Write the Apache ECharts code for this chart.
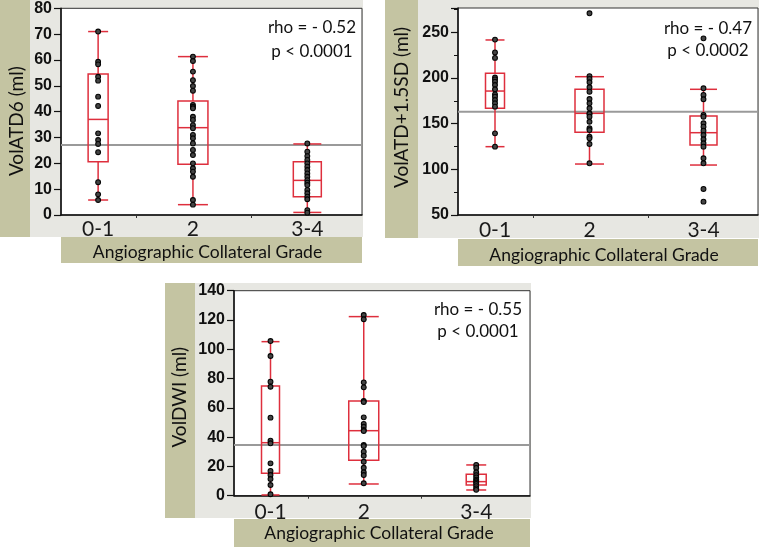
<!DOCTYPE html>
<html><head><meta charset="utf-8">
<script src="https://cdn.jsdelivr.net/npm/echarts@6/dist/echarts.min.js"></script>
<style>html,body{margin:0;padding:0;background:#fff}#c{width:761px;height:548px}</style>
</head><body><div id="c"></div>
<script>
// ---------- data ----------
const categories = ['0-1', '2', '3-4'];

// Panel 1: VolATD6 (ml)
const atd6Box = [[5.8, 20.6, 37.0, 54.6, 71.0], [4.0, 19.6, 33.8, 44.1, 61.3], [1.0, 7.1, 13.4, 20.6, 27.5]];
const atd6Pts01 = [71, 59.3, 58.3, 53.5, 52, 45.8, 42.2, 31.6, 29, 27.5, 24.3, 12.7, 8, 5.8];
const atd6Pts2 = [61.3, 59.6, 55.5, 52.2, 49.9, 48.1, 42.6, 41.9, 41.3, 38, 36.8, 34.8, 33.6, 31, 29.7, 27.7, 25.2, 23.2, 20, 18.1, 16.8, 14.8, 5.8, 4.0];
const atd6Pts34 = [27.7, 24.5, 22.8, 21.3, 20, 18.7, 17.4, 16.1, 14.8, 13.5, 12.5, 11.6, 9.7, 8.4, 7.1, 6.1, 1.9, 0.9];
const atd6Mean = 27.1;
const atd6Stats = ['rho = - 0.52', 'p < 0.0001'];
const atd6Ticks = { min: 0, max: 80, interval: 10 };

// Panel 2: VolATD+1.5SD (ml)
const atdSdBox = [[124.8, 166.8, 185.7, 205.1, 241.6], [105.8, 140.5, 161.3, 187.6, 201.4], [104.7, 126.6, 140.1, 158.4, 187.6]];
const atdSdPts01 = [242, 228, 222, 200.5, 198.5, 196, 192.3, 187.6, 182.1, 179.5, 175.9, 172.3, 168.6, 139.4, 124.8];
const atdSdPts2 = [270.8, 202, 199, 195.3, 189.8, 185, 177, 172.3, 166.8, 161.3, 160.6, 157.6, 152.1, 144.9, 143, 135.7, 133.9, 127.7, 106.6];
const atdSdPts34 = [243.4, 188.7, 181.4, 176.7, 159.5, 157.6, 150.4, 146.7, 142.3, 137.6, 132.9, 128.5, 124.8, 112.1, 106.6, 78.5, 64.6];
const atdSdMean = 163.1;
const atdSdStats = ['rho = - 0.47', 'p < 0.0002'];
const atdSdTicks = { min: 50, max: 276.6, interval: 50 };

// Panel 3: VolDWI (ml)
const dwiBox = [[0.5, 15.3, 36.2, 74.9, 105.2], [8.0, 24.2, 44.4, 64.7, 122.3], [3.9, 7.3, 9.6, 14.6, 21.0]];
const dwiPts01 = [105.6, 95.4, 77.9, 74.4, 53.3, 37.6, 35.8, 22.1, 16.9, 14.1, 11.4, 7.3, 1.0];
const dwiPts2 = [123.4, 120.5, 77.4, 74, 64.7, 64, 53.5, 49, 47.1, 44.9, 44.2, 34.6, 33.9, 30.1, 27.3, 23.2, 19.1, 16, 14.1, 8.5];
const dwiPts34 = [21, 19, 16, 14, 12.5, 11, 10, 9, 8, 6.5, 5, 4];
const dwiMean = 34.6;
const dwiStats = ['rho = - 0.55', 'p < 0.0001'];
const dwiTicks = { min: 0, max: 140, interval: 20 };

const yTitles = ['VolATD6 (ml)', 'VolATD+1.5SD (ml)', 'VolDWI (ml)'];
const xTitle = 'Angiographic Collateral Grade';

// ---------- layout (not data) ----------
const X_MAX = 300;
const catPos = [37, 131.5, 245.5];      // centre of each group on the x scale (JMP width by group)
const catEdges = [75, 190];
const KHAKI = '#c4c4a2', GREY = '#e7e7e2', RED = '#de2f3d';

const panels = [
  { box: atd6Box, pts: [atd6Pts01, atd6Pts2, atd6Pts34], mean: atd6Mean, stats: atd6Stats, ticks: atd6Ticks,
    grid: { left: 61, top: 8.3, width: 301, height: 206.7 }, half: [10, 15, 14], nameGap: 35, xNameGap: 28, labMargin: 3.5,
    yNamePad: [0, 19, 0, 0], xNamePad: [0, 8, 0, 0],
    minor: false, statsX: 312, statsY: [28, 52],
    bg: { strip: [0, 0, 30, 237], grey: [30, 0, 333, 237], band: [61, 237, 301, 26] } },
  { box: atdSdBox, pts: [atdSdPts01, atdSdPts2, atdSdPts34], mean: atdSdMean, stats: atdSdStats, ticks: atdSdTicks,
    grid: { left: 458, top: 8, width: 300, height: 207 }, half: [9.5, 14.5, 13.5], nameGap: 46.5, xNameGap: 31, labMargin: 4.5,
    yNamePad: [0, 0, 0, 8], xNamePad: [0, 8, 0, 0],
    minor: true, statsX: 708, statsY: [29, 51],
    bg: { strip: [385, 0, 33, 238], grey: [418, 0, 341, 238], band: [458, 239, 300, 27] } },
  { box: dwiBox, pts: [dwiPts01, dwiPts2, dwiPts34], mean: dwiMean, stats: dwiStats, ticks: dwiTicks,
    grid: { left: 234, top: 290.7, width: 296, height: 205 }, half: [9, 15, 10], nameGap: 44.5, xNameGap: 28.6, labMargin: 6,
    yNamePad: [0, 8, 0, 0], xNamePad: [0, 6, 0, 0],
    minor: false, statsX: 478, statsY: [310, 332],
    bg: { strip: [165, 283, 30, 235], grey: [195, 283, 336, 235], band: [234, 519, 296, 28] } }
];

function boxRender(half) {
  return function (params, api) {
    const x = api.value(0);
    const lo = api.coord([x, api.value(1)]);
    const q1 = api.coord([x, api.value(2)]);
    const md = api.coord([x, api.value(3)]);
    const q3 = api.coord([x, api.value(4)]);
    const hi = api.coord([x, api.value(5)]);
    const cx = md[0];
    const hw = half[params.dataIndex];
    const st = { stroke: RED, lineWidth: 1.5, fill: null };
    const L = (x1, y1, x2, y2) => ({ type: 'line', shape: { x1, y1, x2, y2 }, style: st });
    return {
      type: 'group', children: [
        L(cx, hi[1], cx, q3[1]), L(cx, q1[1], cx, lo[1]),
        L(cx - hw, hi[1], cx + hw, hi[1]), L(cx - hw, lo[1], cx + hw, lo[1]),
        { type: 'rect', shape: { x: cx - hw, y: q3[1], width: 2 * hw, height: q1[1] - q3[1] }, style: { stroke: RED, lineWidth: 1.5, fill: 'none' } },
        L(cx - hw, md[1], cx + hw, md[1])
      ]
    };
  };
}

const grids = [], xAxes = [], yAxes = [], series = [], graphics = [];
panels.forEach((p, i) => {
  const rect = (r, c) => ({ type: 'rect', z: -5, shape: { x: r[0], y: r[1], width: r[2], height: r[3] }, style: { fill: c }, silent: true });
  graphics.push(rect(p.bg.grey, GREY), rect(p.bg.strip, KHAKI), rect(p.bg.band, KHAKI));
  p.stats.forEach((s, k) => graphics.push({
    type: 'text', z: 50, x: p.statsX, y: p.statsY[k],
    style: { text: s, fill: '#111', font: '17px Lato', textAlign: 'center', textVerticalAlign: 'middle' }
  }));

  grids.push(Object.assign({ show: true, backgroundColor: '#fff', borderColor: '#333', borderWidth: 1 }, p.grid));
  xAxes.push({
    gridIndex: i, type: 'value', min: 0, max: X_MAX,
    name: xTitle, nameLocation: 'middle', nameGap: p.xNameGap,
    nameTextStyle: { fontFamily: 'Lato', fontSize: 17.5, color: '#111', padding: p.xNamePad },
    axisLine: { show: true, onZero: false, lineStyle: { color: '#111', width: 1.5 } },
    axisTick: { show: true, customValues: catEdges, length: 3, lineStyle: { color: '#333' } },
    axisLabel: {
      customValues: catPos, margin: p.labMargin, fontFamily: 'Lato', fontSize: 21, color: '#1a1a1a',
      formatter: v => categories[catPos.indexOf(v)] || ''
    },
    splitLine: { show: false }
  });
  yAxes.push({
    gridIndex: i, type: 'value', min: p.ticks.min, max: p.ticks.max, interval: p.ticks.interval,
    name: yTitles[i], nameLocation: 'middle', nameGap: p.nameGap, nameRotate: 90,
    nameTextStyle: { fontFamily: 'Lato', fontSize: 19, color: '#111', padding: p.yNamePad },
    axisLine: { show: true, onZero: false, lineStyle: { color: '#111', width: 1.5 } },
    axisTick: { show: true, length: 7, lineStyle: { color: '#111', width: 1.2 } },
    minorTick: { show: p.minor, splitNumber: 2, length: 4, lineStyle: { color: '#111', width: 1 } },
    axisLabel: { margin: 9, fontFamily: 'Liberation Sans', fontWeight: 'bold', fontSize: 16, color: '#111', showMaxLabel: p.ticks.max % p.ticks.interval === 0 },
    splitLine: { show: false }
  });

  series.push({
    type: 'line', xAxisIndex: i, yAxisIndex: i, symbol: 'none', silent: true, z: 1,
    lineStyle: { color: '#9a9a9a', width: 2 },
    data: [[0, p.mean], [X_MAX, p.mean]]
  });
  series.push({
    type: 'custom', xAxisIndex: i, yAxisIndex: i, z: 2,
    renderItem: boxRender(p.half),
    encode: { x: 0, y: [1, 2, 3, 4, 5] },
    data: p.box.map((b, k) => [catPos[k]].concat(b))
  });
  const pts = [];
  p.pts.forEach((arr, k) => arr.forEach(v => pts.push([catPos[k], v])));
  series.push({
    type: 'scatter', xAxisIndex: i, yAxisIndex: i, z: 3, symbolSize: 4.8,
    itemStyle: { color: '#444', borderColor: '#050505', borderWidth: 1.1, opacity: 1 },
    data: pts
  });
});

const chart = echarts.init(document.getElementById('c'), null, { renderer: 'canvas' });
chart.setOption({
  animation: false,
  backgroundColor: '#fff',
  grid: grids, xAxis: xAxes, yAxis: yAxes, series: series, graphic: graphics
});
</script>
</body></html>
